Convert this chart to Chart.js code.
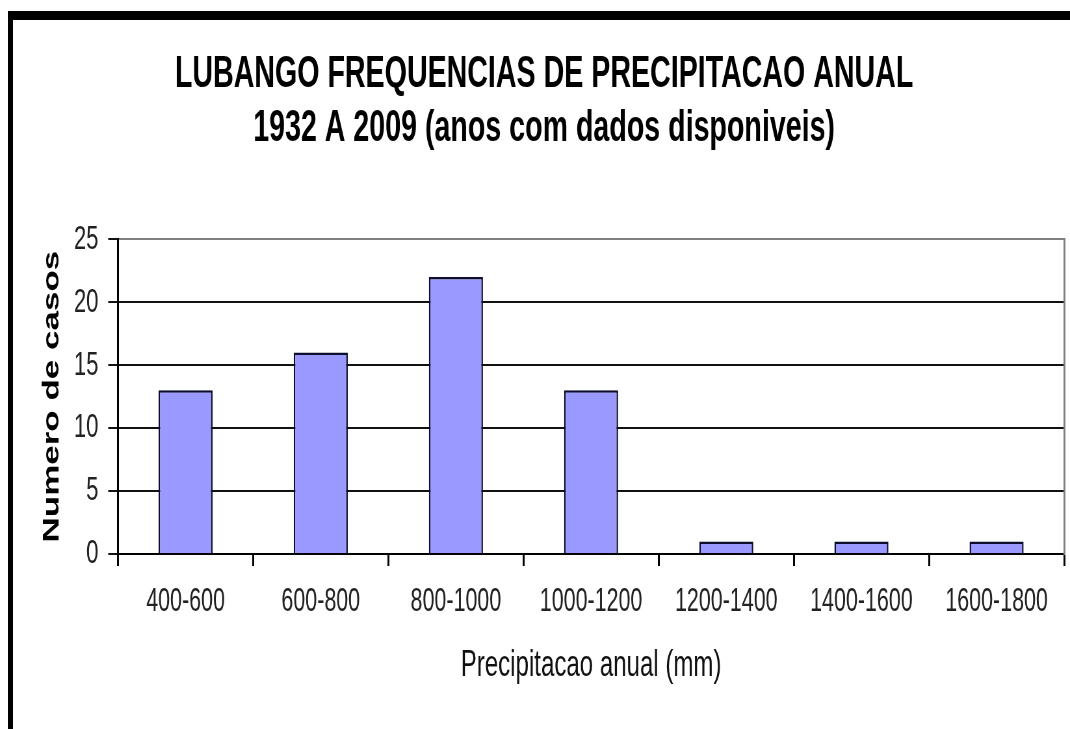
<!DOCTYPE html>
<html>
<head>
<meta charset="utf-8">
<script src="https://cdn.jsdelivr.net/npm/chart.js@4.4.1/dist/chart.umd.min.js"></script>
<style>
  html, body { margin: 0; padding: 0; background: #ffffff; }
  body { width: 1070px; height: 729px; position: relative; overflow: hidden; }
  #frame { position: absolute; left: 8px; top: 11px; right: 0; bottom: 0;
           border-top: 9px solid #000; border-left: 5px solid #000; }
  #c { position: absolute; left: 0; top: 0; width: 1070px; height: 729px; }
</style>
</head>
<body>
<div id="frame"></div>
<canvas id="c" width="1646" height="729" style="width:1070px;height:729px"></canvas>
<script>
const titleLines = ["LUBANGO FREQUENCIAS DE PRECIPITACAO ANUAL", "1932 A 2009 (anos com dados disponiveis)"];
const categories = ["400-600", "600-800", "800-1000", "1000-1200", "1200-1400", "1400-1600", "1600-1800"];
const counts = [13, 16, 22, 13, 1, 1, 1];
const yTicks = [0, 5, 10, 15, 20, 25];
const xAxisTitle = "Precipitacao anual (mm)";
const yAxisTitle = "Numero de casos";

const FONT = "'Liberation Sans', Arial, sans-serif";

new Chart(document.getElementById('c'), {
  type: 'bar',
  data: {
    labels: categories,
    datasets: [{
      data: counts,
      backgroundColor: '#9999ff',
      borderColor: '#0d0d2e',
      borderWidth: 2.5,
      barPercentage: 0.4,
      categoryPercentage: 1.0
    }]
  },
  options: {
    responsive: false,
    animation: false,
    devicePixelRatio: 1,
    layout: { padding: { left: 37, right: 9, top: 0, bottom: 0 } },
    plugins: {
      legend: { display: false },
      tooltip: { enabled: false },
      title: {
        display: true,
        text: titleLines,
        color: '#000',
        font: { family: FONT, size: 44, weight: 'bold', lineHeight: 1.23 },
        padding: { top: 48, bottom: 83 }
      }
    },
    scales: {
      x: {
        afterFit: s => { s.height = 175; },
        grid: { drawOnChartArea: false, drawTicks: true, tickLength: 12, color: '#000', lineWidth: 3 },
        border: { display: true, color: '#000', width: 2 },
        ticks: { color: '#222', padding: 16, font: { family: FONT, size: 33 }, maxRotation: 0, autoSkip: false },
        title: { display: true, text: xAxisTitle, color: '#111', font: { family: FONT, size: 37 }, padding: { top: 0, bottom: 41 } }
      },
      y: {
        min: 0, max: 25,
        afterFit: s => { s.width = 144.5; },
        afterBuildTicks: s => { s.ticks = yTicks.map(v => ({ value: v })); },
        grid: {
          drawTicks: true, tickLength: 15,
          color: ctx => (ctx.tick && ctx.tick.value === 25) ? '#808080' : '#111',
          tickColor: '#111',
          lineWidth: 2
        },
        border: { display: true, color: '#000', width: 3 },
        ticks: { color: '#222', padding: 15, font: { family: FONT, size: 34 } },
        title: { display: true, text: yAxisTitle, color: '#000', font: { family: FONT, size: 35, weight: 'bold' }, padding: { top: 22, bottom: 0 } }
      },
      y2: {
        position: 'right',
        min: 0, max: 25,
        grid: { drawOnChartArea: false, drawTicks: false },
        ticks: { display: false },
        border: { display: true, color: '#808080', width: 3 }
      }
    }
  }
});
</script>
</body>
</html>
